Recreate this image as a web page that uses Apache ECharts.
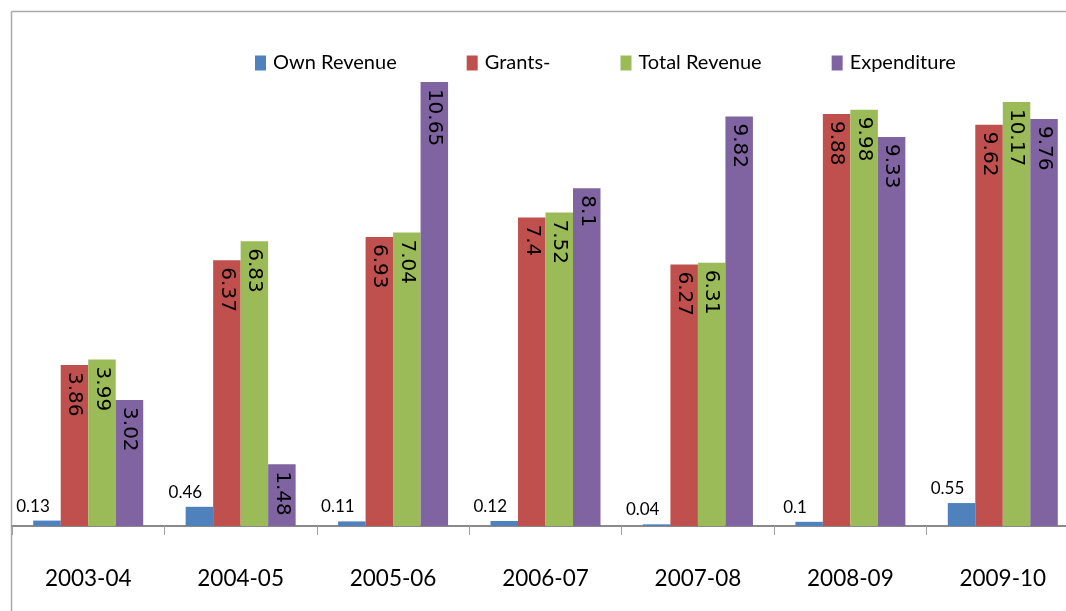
<!DOCTYPE html>
<html>
<head>
<meta charset="utf-8">
<script src="https://cdn.jsdelivr.net/npm/echarts@6/dist/echarts.min.js"></script>
<style>
html,body{margin:0;padding:0;background:#fff;}
#chart{width:1066px;height:611px;}
</style>
</head>
<body>
<div id="chart"></div>
<script>
var categories = ['2003-04','2004-05','2005-06','2006-07','2007-08','2008-09','2009-10'];
var seriesNames = ['Own Revenue','Grants-','Total Revenue','Expenditure'];
var ownRevenue = [0.13, 0.46, 0.11, 0.12, 0.04, 0.1, 0.55];
var grants = [3.86, 6.37, 6.93, 7.4, 6.27, 9.88, 9.62];
var totalRevenue = [3.99, 6.83, 7.04, 7.52, 6.31, 9.98, 10.17];
var expenditure = [3.02, 1.48, 10.65, 8.1, 9.82, 9.33, 9.76];
var colors = ['#4F81BD','#C0504D','#9BBB59','#8064A2'];

var chart = echarts.init(document.getElementById('chart'), null, {renderer:'canvas'});

var vLabel = {
  show: true,
  position: 'insideTop',
  distance: 9,
  rotate: -90,
  align: 'left',
  verticalAlign: 'middle',
  color: '#000',
  fontFamily: 'DejaVu Sans',
  fontSize: 20,
  offset: [-2, 0]
};

function barSeries(name, data, color, label) {
  return {
    name: name,
    type: 'bar',
    data: data,
    barWidth: 27.5,
    barGap: '0%',
    itemStyle: { color: color },
    label: label,
    animation: false
  };
}

var option = {
  animation: false,
  color: colors,
  grid: { left: 12, top: 25.6, bottom: 85, width: 1067, containLabel: false, outerBoundsMode: 'none' },
  legend: {
    left: 255,
    top: 53,
    padding: 0,
    itemWidth: 11,
    itemHeight: 15,
    itemGap: 70,
    icon: 'rect',
    textStyle: { fontFamily: 'Lato', fontSize: 20, color: '#000', padding: [0,0,0,2] },
    data: seriesNames
  },
  xAxis: {
    type: 'category',
    data: categories,
    axisLine: { lineStyle: { color: '#8a8a8a', width: 2 } },
    axisTick: { show: true, length: 9, lineStyle: { color: '#a0a0a0', width: 1 } },
    axisLabel: { fontFamily: 'Lato', fontSize: 22.5, color: '#000', margin: 41 }
  },
  yAxis: {
    type: 'value',
    min: 0,
    max: 12,
    show: false,
    splitLine: { show: false }
  },
  graphic: [
    { type: 'line', shape: { x1: 11.5, y1: 11.5, x2: 1066, y2: 11.5 }, style: { stroke: '#aaaaaa', lineWidth: 1.5 }, silent: true },
    { type: 'line', shape: { x1: 11.5, y1: 11.5, x2: 11.5, y2: 611 }, style: { stroke: '#aaaaaa', lineWidth: 1.5 }, silent: true }
  ],
  series: [
    barSeries(seriesNames[0], ownRevenue, colors[0], {
      show: true, position: 'top', distance: 6, offset: [-14, 0],
      color: '#000', fontFamily: 'Lato', fontSize: 17
    }),
    barSeries(seriesNames[1], grants, colors[1], vLabel),
    barSeries(seriesNames[2], totalRevenue, colors[2], vLabel),
    barSeries(seriesNames[3], expenditure, colors[3], vLabel)
  ]
};
chart.setOption(option);
</script>
</body>
</html>
